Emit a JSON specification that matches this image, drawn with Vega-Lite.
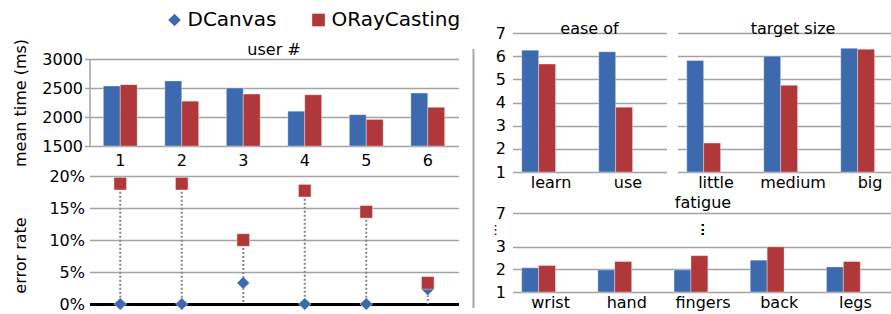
{
  "$schema": "https://vega.github.io/schema/vega-lite/v6.json",
  "background": "white",
  "padding": {"left": 12.5, "top": 10, "right": 0, "bottom": 0},
  "datasets": {
    "users": [
      {"user": "1", "series": "DCanvas", "time": 2535, "err": 0},
      {"user": "2", "series": "DCanvas", "time": 2622, "err": 0},
      {"user": "3", "series": "DCanvas", "time": 2500, "err": 0.033},
      {"user": "4", "series": "DCanvas", "time": 2100, "err": 0},
      {"user": "5", "series": "DCanvas", "time": 2040, "err": 0},
      {"user": "6", "series": "DCanvas", "time": 2413, "err": 0.023},
      {"user": "1", "series": "ORayCasting", "time": 2558, "err": 0.188},
      {"user": "2", "series": "ORayCasting", "time": 2273, "err": 0.188},
      {"user": "3", "series": "ORayCasting", "time": 2395, "err": 0.1},
      {"user": "4", "series": "ORayCasting", "time": 2383, "err": 0.177},
      {"user": "5", "series": "ORayCasting", "time": 1958, "err": 0.144},
      {"user": "6", "series": "ORayCasting", "time": 2168, "err": 0.033}
    ],
    "ease": [
      {"item": "learn", "series": "DCanvas", "score": 6.26},
      {"item": "learn", "series": "ORayCasting", "score": 5.66},
      {"item": "use", "series": "DCanvas", "score": 6.19},
      {"item": "use", "series": "ORayCasting", "score": 3.8}
    ],
    "target": [
      {"item": "little", "series": "DCanvas", "score": 5.81},
      {"item": "little", "series": "ORayCasting", "score": 2.25},
      {"item": "medium", "series": "DCanvas", "score": 6.0},
      {"item": "medium", "series": "ORayCasting", "score": 4.74},
      {"item": "big", "series": "DCanvas", "score": 6.34},
      {"item": "big", "series": "ORayCasting", "score": 6.3}
    ],
    "fatigue": [
      {"item": "wrist", "series": "DCanvas", "score": 2.07},
      {"item": "wrist", "series": "ORayCasting", "score": 2.17},
      {"item": "hand", "series": "DCanvas", "score": 1.98},
      {"item": "hand", "series": "ORayCasting", "score": 2.35},
      {"item": "fingers", "series": "DCanvas", "score": 1.98},
      {"item": "fingers", "series": "ORayCasting", "score": 2.61},
      {"item": "back", "series": "DCanvas", "score": 2.41},
      {"item": "back", "series": "ORayCasting", "score": 3.0},
      {"item": "legs", "series": "DCanvas", "score": 2.11},
      {"item": "legs", "series": "ORayCasting", "score": 2.35}
    ]
  },
  "spacing": 14,
  "hconcat": [
    {
      "spacing": 0,
      "vconcat": [
        {
          "width": 1,
          "height": 5,
          "data": {"values": []},
          "mark": "point",
          "encoding": {}
        },
        {
          "data": {"name": "users"},
          "width": 369,
          "height": 87,
          "title": {"text": "user #", "offset": -20, "frame": "group", "anchor": "middle"},
          "mark": {"type": "bar", "stroke": "#ffffff", "strokeOpacity": 0.35, "strokeWidth": 1},
          "encoding": {
            "x": {"field": "user", "type": "ordinal", "scale": {"paddingInner": 0.45, "paddingOuter": 0.225},
                  "axis": {"title": null, "labelAngle": 0, "ticks": false, "domain": false, "labelPadding": 6, "grid": false}},
            "xOffset": {"field": "series", "type": "nominal", "sort": ["DCanvas", "ORayCasting"], "scale": {"paddingInner": 0, "paddingOuter": 0}},
            "y": {"field": "time", "type": "quantitative", "scale": {"domain": [1500, 3000], "zero": false, "nice": false},
                  "axis": {"title": "mean time (ms)", "values": [1500, 2000, 2500, 3000], "format": "d", "tickSize": 5, "labelPadding": 2, "domain": true, "minExtent": 50, "maxExtent": 50, "titlePadding": 11}},
            "y2": {"datum": 1500},
            "color": {"field": "series", "type": "nominal", "scale": {"domain": ["DCanvas", "ORayCasting"], "range": ["#3D6AAF", "#B0373A"]}}
          }
        },
        {
          "data": {"name": "users"},
          "width": 369,
          "height": 128,
          "encoding": {
            "x": {"field": "user", "type": "ordinal", "scale": {"paddingInner": 0.45, "paddingOuter": 0.225},
                  "axis": {"title": null, "labels": false, "ticks": false, "domain": true, "domainColor": "#000000", "domainWidth": 3, "grid": false}}
          },
          "layer": [
            {
              "mark": {"type": "rule", "strokeDash": [2, 2], "strokeWidth": 2, "color": "#858585"},
              "encoding": {
                "y": {"aggregate": "max", "field": "err", "type": "quantitative", "scale": {"domain": [0, 0.2], "nice": false},
                      "axis": {"title": "error rate", "values": [0, 0.05, 0.1, 0.15, 0.2], "format": ".0%", "ticks": false, "labelPadding": 5, "domain": false, "minExtent": 50, "maxExtent": 50, "titlePadding": 11, "titleY": 79}},
                "y2": {"datum": 0}
              }
            },
            {
              "mark": {"type": "point", "filled": true, "opacity": 1, "size": 160, "stroke": "#ffffff", "strokeOpacity": 0.45, "strokeWidth": 1},
              "encoding": {
                "y": {"field": "err", "type": "quantitative",
                      "axis": {"title": "error rate", "values": [0, 0.05, 0.1, 0.15, 0.2], "format": ".0%", "ticks": false, "labelPadding": 5, "domain": false, "minExtent": 50, "maxExtent": 50, "titlePadding": 11, "titleY": 79}},
                "color": {"field": "series", "type": "nominal", "scale": {"domain": ["DCanvas", "ORayCasting"], "range": ["#3D6AAF", "#B0373A"]},
                          "legend": {"orient": "none", "legendX": 75, "legendY": -23, "direction": "horizontal", "title": null, "labelFontSize": 20, "labelFont": "DejaVu Sans", "labelColor": "#000000", "symbolSize": 160, "symbolStrokeWidth": 0, "columnPadding": 32, "labelOffset": 3}},
                "shape": {"field": "series", "type": "nominal", "scale": {"domain": ["DCanvas", "ORayCasting"], "range": ["diamond", "square"]},
                          "legend": {"orient": "none", "legendX": 75, "legendY": -23, "direction": "horizontal", "title": null, "labelFontSize": 20, "labelFont": "DejaVu Sans", "labelColor": "#000000", "symbolSize": 160, "symbolStrokeWidth": 0, "columnPadding": 32, "labelOffset": 3}}
              }
            }
          ]
        }
      ]
    },
    {
      "spacing": 0,
      "vconcat": [
        {
          "width": 1,
          "height": 15,
          "data": {"values": []},
          "mark": "point",
          "encoding": {}
        },
        {
          "data": {"values": [{"a": 0, "b": 1}]},
          "width": 1,
          "height": 259,
          "mark": {"type": "rule", "color": "#a6a6a6", "strokeWidth": 2},
          "encoding": {
            "x": {"datum": 0, "type": "quantitative", "scale": {"domain": [0, 1]}, "axis": null},
            "y": {"field": "a", "type": "quantitative", "scale": {"domain": [0, 1]}, "axis": null},
            "y2": {"field": "b"}
          }
        }
      ]
    },
    {
      "spacing": 4,
      "vconcat": [
        {
          "spacing": 11,
          "hconcat": [
            {
              "data": {"name": "ease"},
              "width": 154,
              "height": 139,
              "title": {"text": "ease of", "offset": -12, "frame": "group", "anchor": "middle"},
              "mark": {"type": "bar", "stroke": "#ffffff", "strokeOpacity": 0.35, "strokeWidth": 1},
              "encoding": {
                "x": {"field": "item", "type": "nominal", "sort": ["learn", "use"], "scale": {"paddingInner": 0.24, "paddingOuter": 0.12},
                      "axis": {"title": null, "labelAngle": 0, "ticks": false, "domain": false, "labelPadding": 2}},
                "xOffset": {"field": "series", "type": "nominal", "sort": ["DCanvas", "ORayCasting"], "scale": {"paddingInner": 0.22, "paddingOuter": 0}},
                "y": {"field": "score", "type": "quantitative", "scale": {"domain": [1, 7], "zero": false, "nice": false},
                      "axis": {"title": null, "values": [1, 2, 3, 4, 5, 6, 7], "ticks": false, "labelPadding": 7, "domain": false, "minExtent": 19, "maxExtent": 19}},
                "y2": {"datum": 1},
                "color": {"field": "series", "type": "nominal", "scale": {"domain": ["DCanvas", "ORayCasting"], "range": ["#3D6AAF", "#B0373A"]}}
              }
            },
            {
              "data": {"name": "target"},
              "width": 231,
              "height": 139,
              "title": {"text": "target size", "offset": -4, "frame": "group", "anchor": "middle"},
              "mark": {"type": "bar", "stroke": "#ffffff", "strokeOpacity": 0.35, "strokeWidth": 1},
              "encoding": {
                "x": {"field": "item", "type": "nominal", "sort": ["little", "medium", "big"], "scale": {"paddingInner": 0.24, "paddingOuter": 0.12},
                      "axis": {"title": null, "labelAngle": 0, "ticks": false, "domain": false, "labelPadding": 2}},
                "xOffset": {"field": "series", "type": "nominal", "sort": ["DCanvas", "ORayCasting"], "scale": {"paddingInner": 0.22, "paddingOuter": 0}},
                "y": {"field": "score", "type": "quantitative", "scale": {"domain": [1, 7], "zero": false, "nice": false},
                      "axis": {"title": null, "values": [1, 2, 3, 4, 5, 6, 7], "labels": false, "ticks": false, "domain": false}},
                "y2": {"datum": 1},
                "color": {"field": "series", "type": "nominal", "scale": {"domain": ["DCanvas", "ORayCasting"], "range": ["#3D6AAF", "#B0373A"]}}
              }
            }
          ]
        },
        {
          "data": {"name": "fatigue"},
          "width": 381,
          "height": 79,
          "title": {"text": "fatigue", "offset": -5.5, "frame": "group", "anchor": "middle"},
          "resolve": {"axis": {"y": "independent"}},
          "layer": [
            {
              "mark": {"type": "bar", "stroke": "#ffffff", "strokeOpacity": 0.35, "strokeWidth": 1},
              "encoding": {
                "x": {"field": "item", "type": "nominal", "sort": ["wrist", "hand", "fingers", "back", "legs"], "scale": {"paddingInner": 0.24, "paddingOuter": 0.12},
                      "axis": {"title": null, "labelAngle": 0, "ticks": false, "domain": false, "labelPadding": 2}},
                "xOffset": {"field": "series", "type": "nominal", "sort": ["DCanvas", "ORayCasting"], "scale": {"paddingInner": 0.22, "paddingOuter": 0}},
                "y": {"field": "score", "type": "quantitative", "scale": {"domain": [1, 4.5], "zero": false, "nice": false},
                      "axis": {"title": null, "orient": "left", "values": [1, 2, 3, 4.5], "labelExpr": "datum.value == 4.5 ? '7' : datum.label", "labelOverlap": false,
                               "ticks": false, "labelPadding": 7, "domain": false, "minExtent": 19, "maxExtent": 19}},
                "y2": {"datum": 1},
                "color": {"field": "series", "type": "nominal", "scale": {"domain": ["DCanvas", "ORayCasting"], "range": ["#3D6AAF", "#B0373A"]}}
              }
            },
            {
              "mark": {"type": "text", "text": "⋮", "fontSize": 14, "font": "DejaVu Sans", "color": "#000000"},
              "encoding": {
                "x": {"datum": "fingers", "type": "nominal"},
                "y": {"datum": 3.75, "type": "quantitative",
                      "axis": {"title": null, "orient": "left", "values": [3.75], "labelExpr": "'⋮'", "labelFontSize": 13, "grid": false, "ticks": false, "domain": false, "labelPadding": 11, "minExtent": 19, "maxExtent": 19}}
              }
            }
          ]
        }
      ]
    }
  ],
  "config": {
    "font": "DejaVu Sans",
    "view": {"stroke": null},
    "axis": {"labelFont": "DejaVu Sans", "labelFontSize": 16, "labelColor": "#000000", "titleFont": "DejaVu Sans", "titleFontSize": 16, "titleFontWeight": "normal", "titleColor": "#000000", "gridColor": "#a3a3a3", "gridWidth": 1.5, "domainColor": "#a3a3a3", "domainWidth": 1.5, "tickColor": "#a3a3a3", "tickWidth": 1.5},
    "title": {"font": "DejaVu Sans", "fontSize": 16, "fontWeight": "normal", "color": "#000000"}
  }
}
